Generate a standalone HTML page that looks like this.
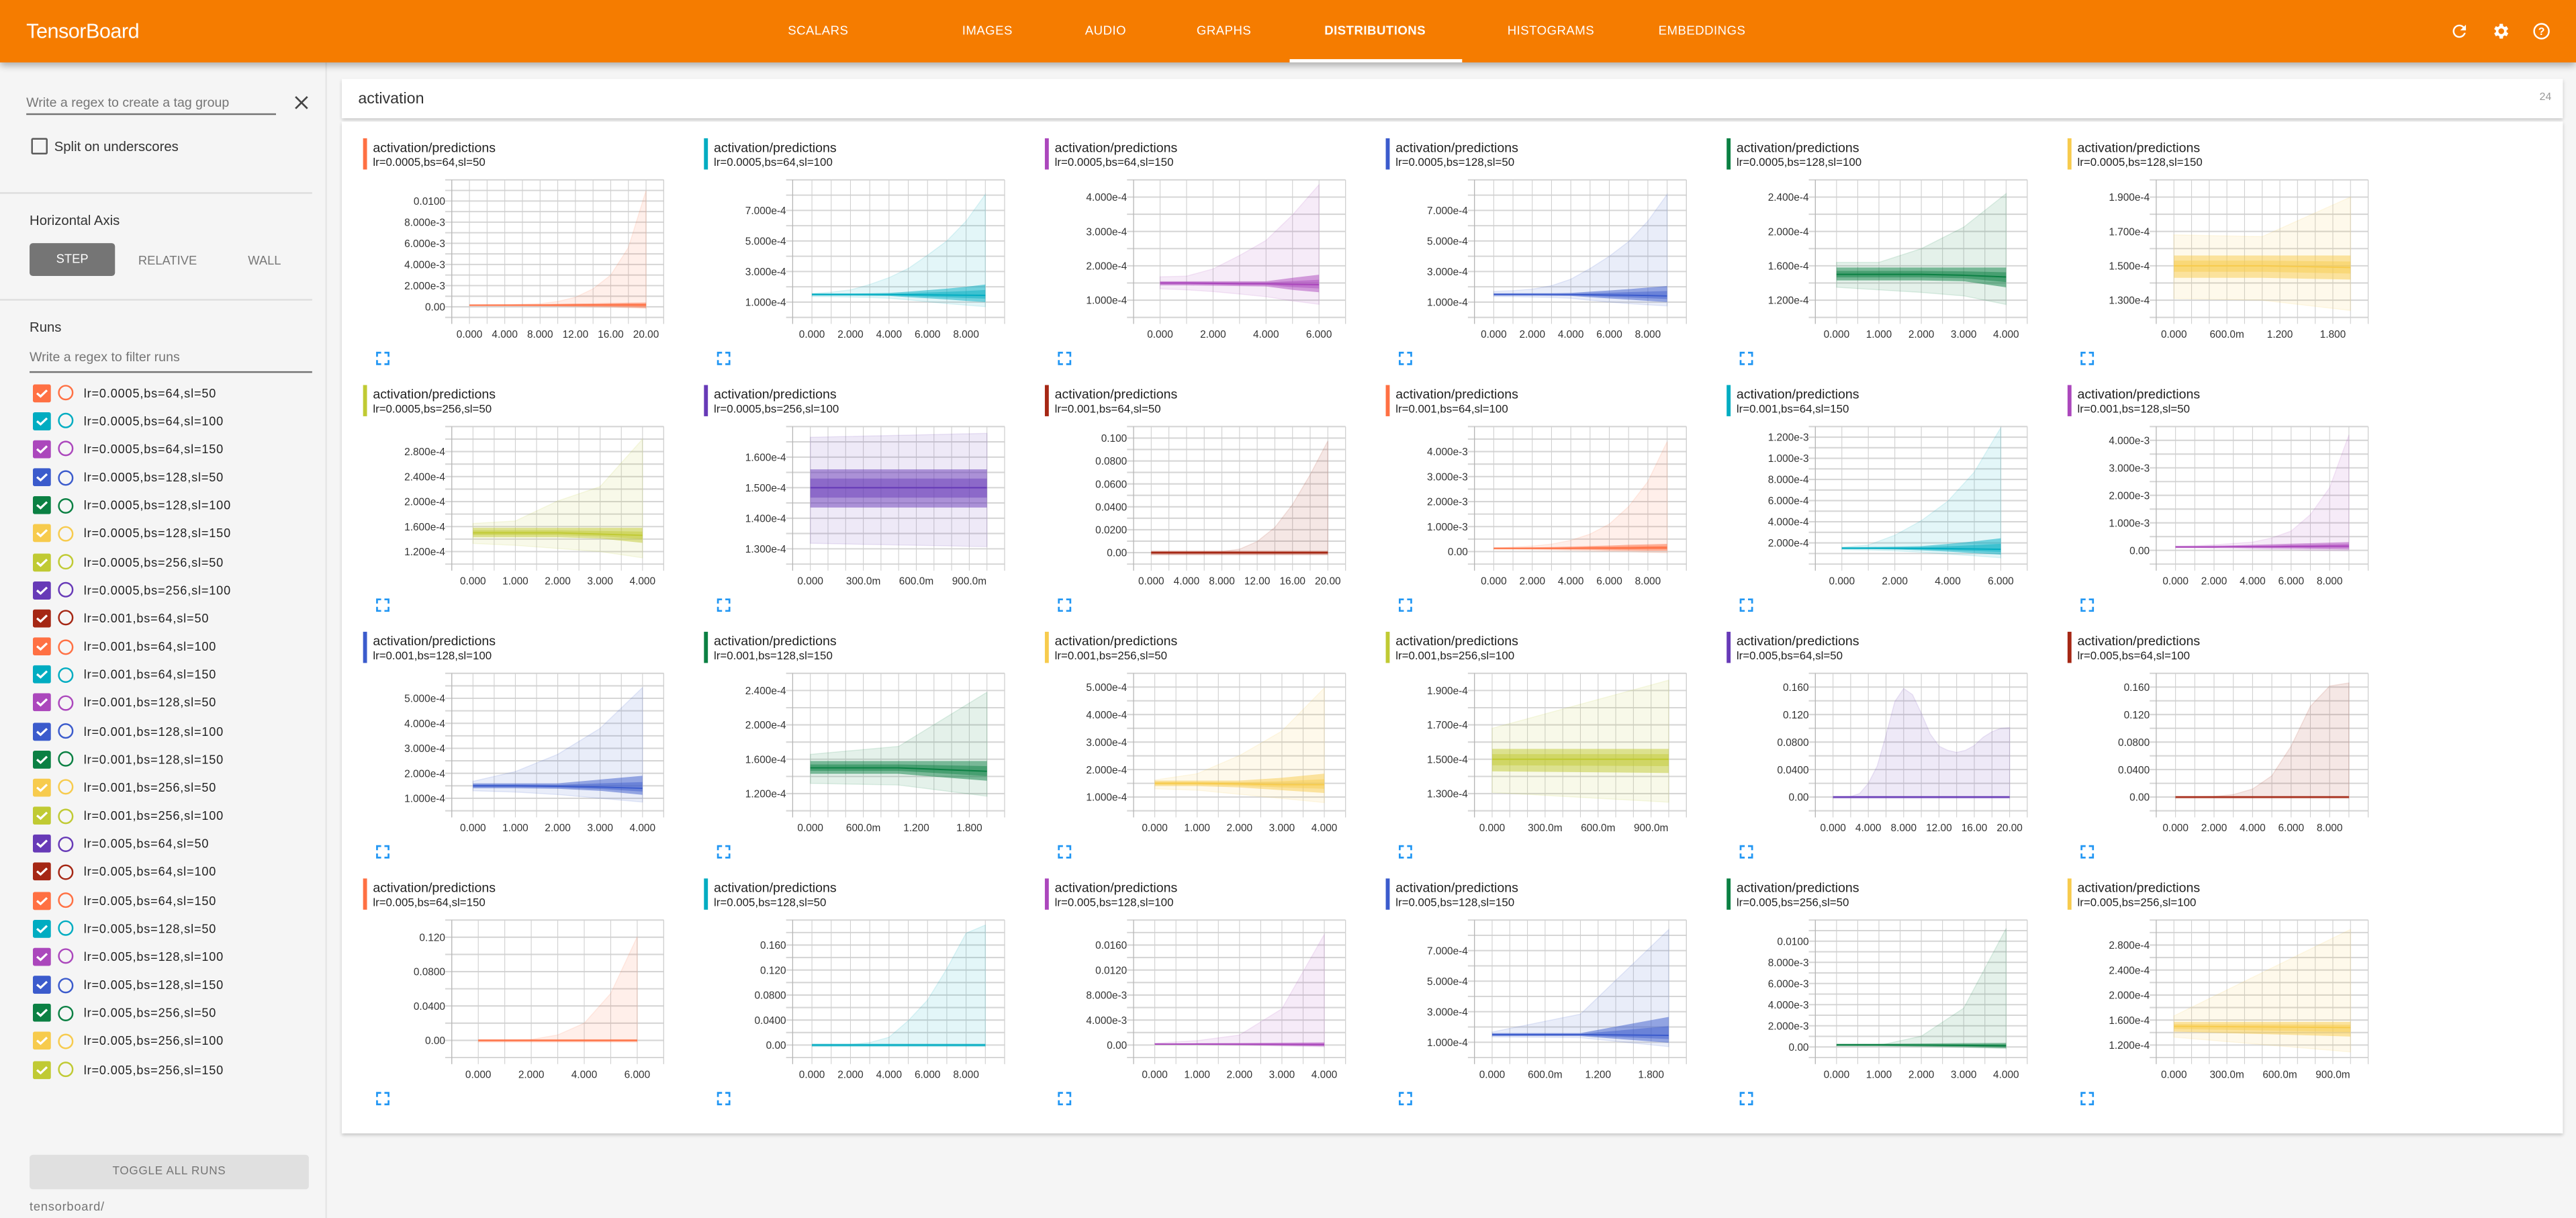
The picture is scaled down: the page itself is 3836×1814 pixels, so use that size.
<!DOCTYPE html>
<html><head><meta charset="utf-8">
<style>
html,body{margin:0;padding:0;width:3836px;height:1814px;overflow:hidden;background:#f5f5f5;font-family:"Liberation Sans",Arial,sans-serif;}
#root{position:absolute;left:0;top:0;width:1568px;height:741.5px;transform:scale(2.44643);transform-origin:0 0;background:#f5f5f5;}
.abs{position:absolute;}
#header{left:0;top:0;width:1568px;height:38px;background:#f57c00;box-shadow:0 2px 4px rgba(0,0,0,.3);z-index:2;}
.tab{position:absolute;top:14px;font-size:7.6px;color:#fff;transform:translateX(-50%);white-space:nowrap;letter-spacing:.2px;}
.tab.active{font-weight:bold;}
#sidebar{left:0;top:38px;width:198px;height:703.5px;border-right:1px solid #e6e6e6;}
.t{position:absolute;white-space:nowrap;}
.divider{position:absolute;left:0;width:190px;height:1px;background:#dedede;}
#tagbox{left:208px;top:48px;width:1352px;height:24px;background:#fff;box-shadow:0 1px 2px rgba(0,0,0,.2);}
#panel{left:208px;top:74px;width:1352px;height:616px;background:#fff;box-shadow:0 1px 2px rgba(0,0,0,.2);}
svg text{font-family:"Liberation Sans",Arial,sans-serif;}
</style></head>
<body>
<div id="root">
  <div id="header" class="abs">
    <div class="t" style="left:16px;top:12px;font-size:12.5px;color:#fff;letter-spacing:-.2px;">TensorBoard</div>
    <div class="tab" style="left:498px">SCALARS</div>
    <div class="tab" style="left:601px">IMAGES</div>
    <div class="tab" style="left:673px">AUDIO</div>
    <div class="tab" style="left:745px">GRAPHS</div>
    <div class="tab active" style="left:837px">DISTRIBUTIONS</div>
    <div class="abs" style="left:785px;top:36px;width:105px;height:2px;background:#fff"></div>
    <div class="tab" style="left:944px">HISTOGRAMS</div>
    <div class="tab" style="left:1036px">EMBEDDINGS</div>
    <svg class="abs" style="left:1491px;top:13px" width="12" height="12" viewBox="0 0 24 24"><path fill="#fff" d="M17.65 6.35A7.96 7.96 0 0 0 12 4a8 8 0 1 0 7.73 10h-2.08A6 6 0 1 1 12 6c1.66 0 3.14.69 4.22 1.78L13 11h7V4l-2.35 2.35z"/></svg>
    <svg class="abs" style="left:1516px;top:13px" width="12" height="12" viewBox="0 0 24 24"><path fill="#fff" d="M19.4 13a7.5 7.5 0 0 0 0-2l2.1-1.6-2-3.5-2.5 1a7 7 0 0 0-1.7-1L15 3h-4l-.4 2.9a7 7 0 0 0-1.7 1l-2.5-1-2 3.5L6.6 11a7.5 7.5 0 0 0 0 2l-2.2 1.6 2 3.5 2.5-1c.5.4 1.1.7 1.7 1L11 21h4l.4-2.9c.6-.3 1.2-.6 1.7-1l2.5 1 2-3.5L19.4 13zM13 15.5a3.5 3.5 0 1 1 0-7 3.5 3.5 0 0 1 0 7z"/></svg>
    <svg class="abs" style="left:1541px;top:13px" width="12" height="12" viewBox="0 0 24 24"><circle cx="12" cy="12" r="9" fill="none" stroke="#fff" stroke-width="2"/><text x="12" y="16.5" text-anchor="middle" font-size="13" fill="#fff" font-weight="bold">?</text></svg>
  </div>

  <div id="sidebar" class="abs">
    <div class="t" style="left:16px;top:20px;font-size:8px;color:#757575">Write a regex to create a tag group</div>
    <div class="abs" style="left:16px;top:31px;width:152px;height:1px;background:#737373"></div>
    <svg class="abs" style="left:179px;top:20px" width="9" height="9" viewBox="0 0 10 10"><path d="M1 1L9 9M9 1L1 9" stroke="#444" stroke-width="1.2"/></svg>
    <div class="abs" style="left:19px;top:46px;width:8px;height:8px;border:1.4px solid #5a5a5a;border-radius:1px"></div>
    <div class="t" style="left:33px;top:46px;font-size:8.3px;color:#333">Split on underscores</div>
    <div class="divider" style="top:79px"></div>
    <div class="t" style="left:18px;top:91px;font-size:8.3px;color:#333">Horizontal Axis</div>
    <div class="abs" style="left:18px;top:110px;width:52px;height:20px;background:#757575;border-radius:2px;color:#fff;font-size:7.5px;text-align:center;line-height:20px">STEP</div>
    <div class="t" style="left:102px;top:116px;font-size:7.5px;color:#777;transform:translateX(-50%)">RELATIVE</div>
    <div class="t" style="left:161px;top:116px;font-size:7.5px;color:#777;transform:translateX(-50%)">WALL</div>
    <div class="divider" style="top:144px"></div>
    <div class="t" style="left:18px;top:156px;font-size:8.3px;color:#333">Runs</div>
    <div class="t" style="left:18px;top:175px;font-size:8px;color:#757575">Write a regex to filter runs</div>
    <div class="abs" style="left:18px;top:187.5px;width:172px;height:1px;background:#737373"></div>
    <div id="runlist" class="abs" style="left:0;top:0;width:198px;height:700px"></div>
    <div class="abs" style="left:18px;top:665px;width:170px;height:21px;background:#e0e0e0;border-radius:2px;color:#757575;font-size:7px;text-align:center;line-height:21px;letter-spacing:.3px">TOGGLE ALL RUNS</div>
    <div class="t" style="left:18px;top:692px;font-size:7.5px;color:#757575;letter-spacing:.3px">tensorboard/</div>
  </div>

  <div id="tagbox" class="abs">
    <div class="t" style="left:10px;top:7px;font-size:9.5px;color:#333">activation</div>
    <div class="t" style="right:7px;top:8px;font-size:6.5px;color:#999">24</div>
  </div>
  <div id="panel" class="abs"></div>
  <svg id="charts" class="abs" style="left:0;top:0" width="1568" height="741.5"></svg>
</div>

<script>
const runLabels = ["lr=0.0005,bs=64,sl=50","lr=0.0005,bs=64,sl=100","lr=0.0005,bs=64,sl=150","lr=0.0005,bs=128,sl=50","lr=0.0005,bs=128,sl=100","lr=0.0005,bs=128,sl=150","lr=0.0005,bs=256,sl=50","lr=0.0005,bs=256,sl=100","lr=0.001,bs=64,sl=50","lr=0.001,bs=64,sl=100","lr=0.001,bs=64,sl=150","lr=0.001,bs=128,sl=50","lr=0.001,bs=128,sl=100","lr=0.001,bs=128,sl=150","lr=0.001,bs=256,sl=50","lr=0.001,bs=256,sl=100","lr=0.005,bs=64,sl=50","lr=0.005,bs=64,sl=100","lr=0.005,bs=64,sl=150","lr=0.005,bs=128,sl=50","lr=0.005,bs=128,sl=100","lr=0.005,bs=128,sl=150","lr=0.005,bs=256,sl=50","lr=0.005,bs=256,sl=100","lr=0.005,bs=256,sl=150"];
const palette = ["#ff7043","#00acc1","#ab47bc","#3b5bcc","#0b8043","#f7cb4d","#c0ca33","#673ab7","#a52714"];
const chartTag = "activation/predictions";

const chartScale = [1e-3,1e-4,1e-4,1e-4,1e-4,1e-4, 1e-4,1e-4,1e-3,1e-3,1e-4,1e-3, 1e-4,1e-4,1e-4,1e-4,1e-3,1e-3, 1e-3,1e-3,1e-3,1e-4,1e-3,1e-4];
const chartSteps = [
 [0,4,8,10,12,14,16,18,20],[0,1,2,3,4,5,6,7,8,9],[0,1,2,3,4,5,6],[0,1,2,3,4,5,6,7,8,9],[0,1,2,3,4],[0,1,2],
 [0,1,2,3,4],[0,1],[0,4,8,10,12,14,16,18,20],[0,1,2,3,4,5,6,7,8,9],[0,1,2,3,4,5,6],[0,1,2,3,4,5,6,7,8,9],
 [0,1,2,3,4],[0,1,2],[0,1,2,3,4],[0,1],[0,1,2,3,4,5,6,7,8,9,10,11,12,13,14,15,16,17,18,19,20],[0,1,2,3,4,5,6,7,8,9],
 [0,1,2,3,4,5,6],[0,1,2,3,4,5,6,7,8,9],[0,1,2,3,4],[0,1,2],[0,1,2,3,4],[0,1]];
const chartMax = [
 [0.2,0.2,0.3,0.5,0.9,1.7,3.0,5.6,11.0],[1.56,1.65,1.8,2.15,2.6,3.2,4.07,5.0,6.3,8.05],[1.68,1.7,1.91,2.3,2.74,3.48,4.36],[1.7,1.75,1.85,2.07,2.5,3.2,4.0,4.96,6.3,8.05],[1.64,1.64,1.8,2.05,2.44],[1.68,1.67,1.9],
 [1.65,1.69,2.01,2.24,3.0],[1.665,1.678],[0.5,0.6,1,3,9.7,22,42,68,97.5],[0.15,0.18,0.22,0.3,0.45,0.7,1.1,1.8,2.8,4.4],[1.59,1.8,2.73,4.1,5.95,8.7,12.9],[0.15,0.17,0.2,0.25,0.3,0.45,0.7,1.3,2.28,4.2],
 [1.68,2.07,2.76,3.8,5.43],[1.657,1.75,2.38],[1.62,1.85,2.51,3.4,4.97],[1.68,1.96],[0.5,0.5,1,5,20,45,90,139,158,149,122,92,74,68,65,68,75,87,95,100,101],[0.5,0.5,1,3.6,11.7,31,74,132,161.5,166],
 [0.5,0.5,1,6.3,20,54.6,120.5],[0.5,0.5,1,4,12.5,39,72,122,179,192],[0.3,0.7,1.6,5.8,17.7],[1.67,2.84,8.38],[0.1,0.15,1.02,3.67,11.2],[1.666,3.05]];
const chartHi = [
 [0.22,0.23,0.25,0.27,0.3,0.32,0.35,0.38,0.4],[1.56,1.56,1.56,1.57,1.6,1.68,1.78,1.88,2.0,2.15],[1.55,1.55,1.55,1.55,1.55,1.65,1.74],[1.58,1.58,1.58,1.58,1.6,1.68,1.76,1.85,1.95,2.05],[1.58,1.58,1.58,1.58,1.58],[1.56,1.56,1.56],
 [1.58,1.58,1.58,1.58,1.58],[1.56,1.56],[1.5,1.5,1.5,1.5,1.5,1.5,1.5,1.5,1.5],[0.16,0.16,0.17,0.18,0.2,0.22,0.24,0.27,0.29,0.31],[1.6,1.62,1.65,1.7,1.9,2.15,2.44],[0.16,0.16,0.17,0.18,0.2,0.22,0.24,0.26,0.28,0.3],
 [1.6,1.6,1.6,1.75,1.9],[1.58,1.58,1.58],[1.6,1.6,1.6,1.7,1.85],[1.56,1.56],[1.5,1.5,1.5,1.5,1.5,1.5,1.5,1.5,1.5,1.5,1.5,1.5,1.5,1.5,1.5,1.5,1.5,1.5,1.5,1.5,1.5],[1.5,1.5,1.5,1.5,1.5,1.5,1.5,1.5,1.5,1.5],
 [1.2,1.2,1.2,1.2,1.2,1.2,1.2],[2,2,2,2,2,2,2,2,2,2],[0.25,0.28,0.32,0.38,0.43],[1.6,1.6,2.66],[0.3,0.3,0.33,0.36,0.38],[1.57,1.57]];
const chartMed = [
 [0.15,0.15,0.15,0.16,0.16,0.17,0.17,0.18,0.18],[1.5,1.5,1.5,1.5,1.49,1.48,1.47,1.46,1.45,1.44],[1.5,1.5,1.49,1.48,1.48,1.46,1.45],[1.5,1.5,1.5,1.5,1.49,1.48,1.46,1.45,1.43,1.4],[1.5,1.5,1.5,1.49,1.47],[1.5,1.5,1.49],
 [1.5,1.5,1.5,1.48,1.46],[1.5,1.5],[0,0,0,0,0,0,0,0,0],[0.13,0.13,0.13,0.13,0.13,0.14,0.14,0.14,0.15,0.15],[1.5,1.5,1.49,1.48,1.46,1.43,1.4],[0.12,0.12,0.12,0.13,0.13,0.13,0.14,0.14,0.15,0.15],
 [1.5,1.5,1.48,1.45,1.4],[1.5,1.5,1.46],[1.5,1.5,1.48,1.45,1.45],[1.5,1.5],[0,0,0,0,0,0,0,0,0,0,0,0,0,0,0,0,0,0,0,0,0],[0,0,0,0,0,0,0,0,0,0],
 [0,0,0,0,0,0,0],[0,0,0,0,0,0,0,0,0,0],[0.15,0.15,0.12,0.1,0.08],[1.5,1.5,1.45],[0.2,0.2,0.18,0.15,0.12],[1.5,1.48]];
const chartLo = [
 [0.1,0.1,0.08,0.06,0.04,0.02,0,-0.05,-0.1],[1.42,1.42,1.42,1.41,1.4,1.32,1.25,1.17,1.08,1.0],[1.43,1.43,1.42,1.41,1.4,1.3,1.23],[1.42,1.42,1.42,1.41,1.4,1.32,1.24,1.16,1.08,1.0],[1.43,1.43,1.43,1.42,1.35],[1.43,1.43,1.42],
 [1.43,1.43,1.43,1.41,1.34],[1.435,1.435],[-1.5,-1.5,-1.5,-1.5,-1.5,-1.5,-1.5,-1.5,-1.5],[0.1,0.1,0.1,0.09,0.08,0.07,0.05,0.04,0.03,0.03],[1.42,1.41,1.38,1.3,1.18,1.03,0.9],[0.1,0.1,0.1,0.09,0.08,0.07,0.06,0.05,0.04,0.03],
 [1.4,1.4,1.38,1.3,1.14],[1.43,1.43,1.35],[1.4,1.4,1.35,1.25,1.15],[1.43,1.42],[-1.5,-1.5,-1.5,-1.5,-1.5,-1.5,-1.5,-1.5,-1.5,-1.5,-1.5,-1.5,-1.5,-1.5,-1.5,-1.5,-1.5,-1.5,-1.5,-1.5,-1.5],[-1.5,-1.5,-1.5,-1.5,-1.5,-1.5,-1.5,-1.5,-1.5,-1.5],
 [-1.5,-1.5,-1.5,-1.5,-1.5,-1.5,-1.5],[-2,-2,-2,-2,-2,-2,-2,-2,-2,-2],[0.1,0.08,0.02,-0.1,-0.2],[1.4,1.4,0.97],[0.1,0.1,0.05,0,-0.1],[1.415,1.336]];
const chartMin = [
 [0.08,0.07,0.05,0.02,0,-0.03,-0.06,-0.1,-0.15],[1.36,1.35,1.33,1.3,1.25,1.15,1.02,0.9,0.8,0.7],[1.33,1.3,1.25,1.18,1.1,0.98,0.88],[1.36,1.35,1.33,1.3,1.25,1.12,1.0,0.9,0.82,0.75],[1.35,1.32,1.29,1.25,1.15],[1.31,1.30,1.24],
 [1.33,1.3,1.25,1.2,1.1],[1.318,1.307],[-2,-2,-2,-2,-2,-2,-2,-2,-2],[0.09,0.09,0.08,0.07,0.05,0.03,0.01,0,-0.03,-0.05],[1.36,1.32,1.25,1.12,0.95,0.78,0.6],[0.09,0.09,0.08,0.07,0.05,0.03,0.02,0,-0.01,-0.02],
 [1.3,1.25,1.15,1.0,0.85],[1.32,1.3,1.17],[1.3,1.25,1.1,0.95,0.8],[1.307,1.25],[-2,-2,-2,-2,-2,-2,-2,-2,-2,-2,-2,-2,-2,-2,-2,-2,-2,-2,-2,-2,-2],[-2,-2,-2,-2,-2,-2,-2,-2,-2,-2],
 [-2,-2,-2,-2,-2,-2,-2],[-2.5,-2.5,-2.5,-2.5,-2.5,-2.5,-2.5,-2.5,-2.5,-2.5],[0.08,0.05,-0.02,-0.15,-0.3],[1.35,1.3,0.71],[0.08,0.07,0.02,-0.05,-0.15],[1.326,1.09]];

const yDomLo = [-1,0,0.5,0,1.0,1.2, 1.0,1.25,-10,-0.5,0,-0.5, 0.5,1.0,0.5,1.2,-20,-20, -20,-20,-2,0,-1,1.0];
const yDomHi = [12,9,4.5,9,2.6,2.0, 3.2,1.7,110,5,13,4.5, 6,2.6,5.5,2.0,180,180, 140,200,20,9,12,3.2];
const yTickVals = [
 [0,2,4,6,8,10],[1,3,5,7],[1,2,3,4],[1,3,5,7],[1.2,1.6,2.0,2.4],[1.3,1.5,1.7,1.9],
 [1.2,1.6,2.0,2.4,2.8],[1.3,1.4,1.5,1.6],[0,20,40,60,80,100],[0,1,2,3,4],[2,4,6,8,10,12],[0,1,2,3,4],
 [1,2,3,4,5],[1.2,1.6,2.0,2.4],[1,2,3,4,5],[1.3,1.5,1.7,1.9],[0,40,80,120,160],[0,40,80,120,160],
 [0,40,80,120],[0,40,80,120,160],[0,4,8,12,16],[1,3,5,7],[0,2,4,6,8,10],[1.2,1.6,2.0,2.4,2.8]];
const yTickLabels = [
 ["0.00","2.000e-3","4.000e-3","6.000e-3","8.000e-3","0.0100"],["1.000e-4","3.000e-4","5.000e-4","7.000e-4"],["1.000e-4","2.000e-4","3.000e-4","4.000e-4"],["1.000e-4","3.000e-4","5.000e-4","7.000e-4"],["1.200e-4","1.600e-4","2.000e-4","2.400e-4"],["1.300e-4","1.500e-4","1.700e-4","1.900e-4"],
 ["1.200e-4","1.600e-4","2.000e-4","2.400e-4","2.800e-4"],["1.300e-4","1.400e-4","1.500e-4","1.600e-4"],["0.00","0.0200","0.0400","0.0600","0.0800","0.100"],["0.00","1.000e-3","2.000e-3","3.000e-3","4.000e-3"],["2.000e-4","4.000e-4","6.000e-4","8.000e-4","1.000e-3","1.200e-3"],["0.00","1.000e-3","2.000e-3","3.000e-3","4.000e-3"],
 ["1.000e-4","2.000e-4","3.000e-4","4.000e-4","5.000e-4"],["1.200e-4","1.600e-4","2.000e-4","2.400e-4"],["1.000e-4","2.000e-4","3.000e-4","4.000e-4","5.000e-4"],["1.300e-4","1.500e-4","1.700e-4","1.900e-4"],["0.00","0.0400","0.0800","0.120","0.160"],["0.00","0.0400","0.0800","0.120","0.160"],
 ["0.00","0.0400","0.0800","0.120"],["0.00","0.0400","0.0800","0.120","0.160"],["0.00","4.000e-3","8.000e-3","0.0120","0.0160"],["1.000e-4","3.000e-4","5.000e-4","7.000e-4"],["0.00","2.000e-3","4.000e-3","6.000e-3","8.000e-3","0.0100"],["1.200e-4","1.600e-4","2.000e-4","2.400e-4","2.800e-4"]];
const xTickVals = [
 [0,4,8,12,16,20],[0,2,4,6,8],[0,2,4,6],[0,2,4,6,8],[0,1,2,3,4],[0,0.6,1.2,1.8],
 [0,1,2,3,4],[0,0.3,0.6,0.9],[0,4,8,12,16,20],[0,2,4,6,8],[0,2,4,6],[0,2,4,6,8],
 [0,1,2,3,4],[0,0.6,1.2,1.8],[0,1,2,3,4],[0,0.3,0.6,0.9],[0,4,8,12,16,20],[0,2,4,6,8],
 [0,2,4,6],[0,2,4,6,8],[0,1,2,3,4],[0,0.6,1.2,1.8],[0,1,2,3,4],[0,0.3,0.6,0.9]];
const xTickLabels = [
 ["0.000","4.000","8.000","12.00","16.00","20.00"],["0.000","2.000","4.000","6.000","8.000"],["0.000","2.000","4.000","6.000"],["0.000","2.000","4.000","6.000","8.000"],["0.000","1.000","2.000","3.000","4.000"],["0.000","600.0m","1.200","1.800"],
 ["0.000","1.000","2.000","3.000","4.000"],["0.000","300.0m","600.0m","900.0m"],["0.000","4.000","8.000","12.00","16.00","20.00"],["0.000","2.000","4.000","6.000","8.000"],["0.000","2.000","4.000","6.000"],["0.000","2.000","4.000","6.000","8.000"],
 ["0.000","1.000","2.000","3.000","4.000"],["0.000","600.0m","1.200","1.800"],["0.000","1.000","2.000","3.000","4.000"],["0.000","300.0m","600.0m","900.0m"],["0.000","4.000","8.000","12.00","16.00","20.00"],["0.000","2.000","4.000","6.000","8.000"],
 ["0.000","2.000","4.000","6.000"],["0.000","2.000","4.000","6.000","8.000"],["0.000","1.000","2.000","3.000","4.000"],["0.000","600.0m","1.200","1.800"],["0.000","1.000","2.000","3.000","4.000"],["0.000","300.0m","600.0m","900.0m"]];
const xMinor = [2,1,1,1,0.5,0.2, 0.5,0.1,2,1,1,1, 0.5,0.2,0.5,0.1,2,1, 1,1,0.5,0.2,0.5,0.1];

const NS = "http://www.w3.org/2000/svg";
function mk(tag, attrs, parent) {
  const e = document.createElementNS(NS, tag);
  for (const k in attrs) e.setAttribute(k, attrs[k]);
  parent.appendChild(e);
  return e;
}

// sidebar run list
const runList = document.getElementById('runlist');
runLabels.forEach((lab, i) => {
  const cy = 201 + i * 17.17;
  const col = palette[i % palette.length];
  const row = document.createElement('div');
  
  
  row.style.cssText = 'position:absolute;left:0;top:' + (cy - 7) + 'px;width:198px;height:14px;';
  row.innerHTML = '<svg style="position:absolute;left:20px;top:1.5px" width="11" height="11" viewBox="0 0 11 11"><rect x="0" y="0" width="11" height="11" rx="1.2" fill="' + col + '"/><path d="M2.5 5.4L4.7 7.3L8.6 3.6" stroke="#fff" stroke-width="1.3" fill="none"/></svg>' +
    '<svg style="position:absolute;left:35px;top:2px" width="10" height="10" viewBox="0 0 10 10"><circle cx="5" cy="5" r="4.2" fill="none" stroke="' + col + '" stroke-width="1"/></svg>' +
    '<div style="position:absolute;left:51px;top:2.5px;font-size:7.4px;color:#222;letter-spacing:.35px;white-space:nowrap">' + lab + '</div>';
  runList.appendChild(row);
});

// charts
const svg = document.getElementById('charts');
function niceIdx(lo, hi, step) {
  const a = Math.ceil(lo / step - 1e-6), b = Math.floor(hi / step + 1e-6);
  const out = [];
  for (let k = a; k <= b; k++) out.push(k * step);
  return out;
}
for (let c = 0; c < 24; c++) {
  const col = c % 6, row = Math.floor(c / 6);
  const ox = 221 + col * 207.5, oy = 84.2 + row * 150.2;
  const color = palette[c % palette.length];
  const g = mk('g', {}, svg);
  
  
  const bar = mk('rect', {x: ox, y: oy, width: 2.4, height: 19, fill: color}, g);
  
  
  const t1 = mk('text', {x: ox + 6, y: oy + 8.3, 'font-size': 8, fill: '#212121'}, g);
  t1.textContent = chartTag;
  
  
  const t2 = mk('text', {x: ox + 6, y: oy + 16.8, 'font-size': 6.9, fill: '#212121'}, g);
  t2.textContent = runLabels[c];
  
  

  const L = ox + 54, R = ox + 183, T = oy + 25.3, B = oy + 109;
  const steps = chartSteps[c];
  const xm = xMinor[c];
  const x0 = steps[0] - xm, x1 = steps[steps.length - 1] + xm;
  const yLo = yDomLo[c], yHi = yDomHi[c];
  const xs = v => L + (v - x0) / (x1 - x0) * (R - L);
  const ys = v => B - (v - yLo) / (yHi - yLo) * (B - T);
  const yt = yTickVals[c];
  const ym = (yt[1] - yt[0]) / 2;

  const grid = mk('g', {}, g);
  
  
  niceIdx(yLo, yHi, ym).forEach(v => {
    mk('line', {x1: L - 4, x2: R, y1: ys(v), y2: ys(v), stroke: '#d6d6d6', 'stroke-width': 0.85}, grid);
  });
  niceIdx(x0, x1, xm).forEach(v => {
    mk('line', {x1: xs(v), x2: xs(v), y1: T, y2: B + 4, stroke: '#d0d0d0', 'stroke-width': 0.45}, grid);
  });
  mk('line', {x1: L, x2: L, y1: T, y2: B + 4, stroke: '#b5b5b5', 'stroke-width': 0.5}, grid);
  mk('line', {x1: R, x2: R, y1: T, y2: B + 4, stroke: '#d0d0d0', 'stroke-width': 0.5}, grid);

  const yl = yTickLabels[c];
  yt.forEach((v, i) => {
    const tx = mk('text', {x: L - 4, y: ys(v) + 2.3, 'font-size': 6.3, fill: '#333', 'text-anchor': 'end'}, g);
    tx.textContent = yl[i];
    
    
  });
  const xl = xTickLabels[c];
  xTickVals[c].forEach((v, i) => {
    const tx = mk('text', {x: xs(v), y: oy + 121.5, 'font-size': 6.3, fill: '#333', 'text-anchor': 'middle'}, g);
    tx.textContent = xl[i];
    
    
  });

  const mx = chartMax[c], hi = chartHi[c], md = chartMed[c], lo = chartLo[c], mn = chartMin[c];
  function area(top, bot) {
    let d = '';
    steps.forEach((s, i) => { d += (i ? 'L' : 'M') + xs(s).toFixed(2) + ' ' + ys(top[i]).toFixed(2); });
    for (let i = steps.length - 1; i >= 0; i--) d += 'L' + xs(steps[i]).toFixed(2) + ' ' + ys(bot[i]).toFixed(2);
    return d + 'Z';
  }
  const outer = mk('path', {d: area(mx, mn), fill: color, 'fill-opacity': 0.11, stroke: color, 'stroke-opacity': 0.12, 'stroke-width': 0.6}, g);
  
  
  const inner = mk('path', {d: area(hi, lo), fill: color, 'fill-opacity': 0.5}, g);
  
  
  const hi2 = hi.map((v, i) => (v + md[i]) / 2), lo2 = lo.map((v, i) => (v + md[i]) / 2);
  const core = mk('path', {d: area(hi2, lo2), fill: color, 'fill-opacity': 0.45}, g);
  
  
  let dm = '';
  steps.forEach((s, i) => { dm += (i ? 'L' : 'M') + xs(s).toFixed(2) + ' ' + ys(md[i]).toFixed(2); });
  const med = mk('path', {d: dm, fill: 'none', stroke: color, 'stroke-width': 0.8}, g);
  
  

  const ex = ox + 8.5, ey = oy + 130.5;
  const icon = mk('path', {d: 'M' + ex + ' ' + (ey + 2.5) + 'V' + ey + 'H' + (ex + 2.5) + 'M' + (ex + 4.5) + ' ' + ey + 'H' + (ex + 7) + 'V' + (ey + 2.5) + 'M' + (ex + 7) + ' ' + (ey + 4.5) + 'V' + (ey + 7) + 'H' + (ex + 4.5) + 'M' + (ex + 2.5) + ' ' + (ey + 7) + 'H' + ex + 'V' + (ey + 4.5), fill: 'none', stroke: '#2196f3', 'stroke-width': 1.1}, g);
  
  
}
</script>
</body></html>
